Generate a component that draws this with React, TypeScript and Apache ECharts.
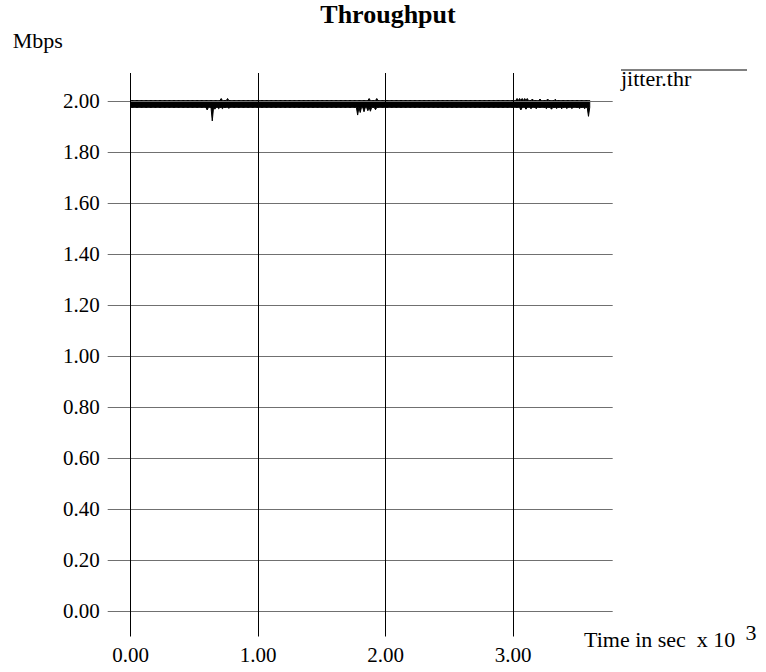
import React, { useEffect, useRef } from "react";
import * as echarts from "echarts";

// width of each sampling bin of the throughput trace (seconds)
const timeStepSec = 10;

// upper edge of the trace in each 10 s bin (Mbps), starting at t = 0
const throughputMaxMbps = [
  2.002,
  // 10-100
  2.002, 2.002, 2.002, 2.002, 2.002, 2.002, 2.002, 2.002, 2.002, 2.002,
  // 110-200
  2.002, 2.002, 2.002, 2.002, 2.002, 2.002, 2.002, 2.002, 2.002, 2.002,
  // 210-300
  2.002, 2.002, 2.002, 2.002, 2.002, 2.002, 2.002, 2.002, 2.002, 2.002,
  // 310-400
  2.002, 2.002, 2.002, 2.002, 2.002, 2.002, 2.002, 2.002, 2.002, 2.002,
  // 410-500
  2.002, 2.002, 2.002, 2.002, 2.002, 2.002, 2.002, 2.002, 2.002, 2.002,
  // 510-600
  2.002, 2.002, 2.002, 2.002, 2.002, 2.002, 2.002, 2.002, 2.002, 2.002,
  // 610-700
  2.002, 2.002, 2.002, 2.002, 2.002, 2.002, 2.002, 2.002, 2.002, 2.002,
  // 710-800
  2.010, 2.002, 2.002, 2.002, 2.002, 2.010, 2.002, 2.002, 2.002, 2.002,
  // 810-900
  2.002, 2.002, 2.002, 2.002, 2.002, 2.002, 2.002, 2.002, 2.002, 2.002,
  // 910-1000
  2.002, 2.002, 2.002, 2.002, 2.002, 2.002, 2.002, 2.002, 2.002, 2.002,
  // 1010-1100
  2.002, 2.002, 2.002, 2.002, 2.002, 2.002, 2.002, 2.002, 2.002, 2.002,
  // 1110-1200
  2.002, 2.002, 2.002, 2.002, 2.002, 2.002, 2.002, 2.002, 2.002, 2.002,
  // 1210-1300
  2.002, 2.002, 2.002, 2.002, 2.002, 2.002, 2.002, 2.002, 2.002, 2.002,
  // 1310-1400
  2.002, 2.002, 2.002, 2.002, 2.002, 2.002, 2.002, 2.002, 2.002, 2.002,
  // 1410-1500
  2.002, 2.002, 2.002, 2.002, 2.002, 2.002, 2.002, 2.002, 2.002, 2.002,
  // 1510-1600
  2.002, 2.002, 2.002, 2.002, 2.002, 2.002, 2.002, 2.002, 2.002, 2.002,
  // 1610-1700
  2.002, 2.002, 2.002, 2.002, 2.002, 2.002, 2.002, 2.002, 2.002, 2.002,
  // 1710-1800
  2.002, 2.002, 2.002, 2.002, 2.002, 2.002, 2.002, 2.002, 2.002, 2.002,
  // 1810-1900
  2.002, 2.002, 2.002, 2.002, 2.002, 2.002, 2.010, 2.002, 2.002, 2.002,
  // 1910-2000
  2.002, 2.002, 2.010, 2.002, 2.002, 2.002, 2.002, 2.002, 2.002, 2.002,
  // 2010-2100
  2.002, 2.002, 2.002, 2.002, 2.002, 2.002, 2.002, 2.002, 2.002, 2.002,
  // 2110-2200
  2.002, 2.002, 2.002, 2.002, 2.002, 2.002, 2.002, 2.002, 2.002, 2.002,
  // 2210-2300
  2.002, 2.002, 2.002, 2.002, 2.002, 2.002, 2.002, 2.002, 2.002, 2.002,
  // 2310-2400
  2.002, 2.002, 2.002, 2.002, 2.002, 2.002, 2.002, 2.002, 2.002, 2.002,
  // 2410-2500
  2.002, 2.002, 2.002, 2.002, 2.002, 2.002, 2.002, 2.002, 2.002, 2.002,
  // 2510-2600
  2.002, 2.002, 2.002, 2.002, 2.002, 2.002, 2.002, 2.002, 2.002, 2.002,
  // 2610-2700
  2.002, 2.002, 2.002, 2.002, 2.002, 2.002, 2.002, 2.002, 2.002, 2.002,
  // 2710-2800
  2.002, 2.002, 2.002, 2.002, 2.002, 2.002, 2.002, 2.002, 2.002, 2.002,
  // 2810-2900
  2.002, 2.002, 2.002, 2.002, 2.002, 2.002, 2.002, 2.002, 2.002, 2.002,
  // 2910-3000
  2.002, 2.002, 2.002, 2.002, 2.002, 2.002, 2.002, 2.002, 2.002, 2.002,
  // 3010-3100
  2.002, 2.002, 2.010, 2.002, 2.010, 2.002, 2.010, 2.002, 2.010, 2.002,
  // 3110-3200
  2.010, 2.002, 2.002, 2.002, 2.008, 2.002, 2.002, 2.002, 2.002, 2.002,
  // 3210-3300
  2.008, 2.002, 2.002, 2.002, 2.002, 2.002, 2.008, 2.002, 2.002, 2.002,
  // 3310-3400
  2.002, 2.002, 2.007, 2.002, 2.002, 2.002, 2.002, 2.002, 2.002, 2.002,
  // 3410-3500
  2.002, 2.002, 2.002, 2.002, 2.002, 2.002, 2.002, 2.002, 2.002, 2.002,
  // 3510-3600
  2.002, 2.002, 2.002, 2.002, 2.002, 2.002, 2.002, 2.002, 2.002, 2.002,
];

// lower edge of the trace in each 10 s bin (Mbps), starting at t = 0
const throughputMinMbps = [
  1.975,
  // 10-100
  1.975, 1.975, 1.975, 1.975, 1.975, 1.975, 1.975, 1.975, 1.975, 1.975,
  // 110-200
  1.975, 1.975, 1.975, 1.975, 1.975, 1.975, 1.975, 1.975, 1.975, 1.975,
  // 210-300
  1.975, 1.975, 1.975, 1.975, 1.975, 1.975, 1.975, 1.975, 1.975, 1.975,
  // 310-400
  1.975, 1.975, 1.975, 1.975, 1.975, 1.975, 1.975, 1.975, 1.975, 1.975,
  // 410-500
  1.975, 1.975, 1.975, 1.975, 1.975, 1.975, 1.975, 1.975, 1.975, 1.975,
  // 510-600
  1.975, 1.975, 1.975, 1.975, 1.975, 1.975, 1.975, 1.975, 1.975, 1.965,
  // 610-700
  1.975, 1.975, 1.975, 1.922, 1.975, 1.968, 1.975, 1.975, 1.970, 1.975,
  // 710-800
  1.975, 1.970, 1.975, 1.975, 1.975, 1.975, 1.972, 1.975, 1.975, 1.975,
  // 810-900
  1.975, 1.975, 1.975, 1.975, 1.975, 1.975, 1.975, 1.975, 1.975, 1.975,
  // 910-1000
  1.975, 1.975, 1.975, 1.975, 1.975, 1.975, 1.975, 1.975, 1.975, 1.975,
  // 1010-1100
  1.975, 1.975, 1.975, 1.975, 1.975, 1.975, 1.975, 1.975, 1.975, 1.975,
  // 1110-1200
  1.975, 1.975, 1.975, 1.975, 1.975, 1.975, 1.975, 1.975, 1.975, 1.975,
  // 1210-1300
  1.975, 1.975, 1.975, 1.975, 1.975, 1.975, 1.975, 1.975, 1.975, 1.975,
  // 1310-1400
  1.975, 1.975, 1.975, 1.975, 1.975, 1.975, 1.975, 1.975, 1.975, 1.975,
  // 1410-1500
  1.975, 1.975, 1.975, 1.975, 1.975, 1.975, 1.975, 1.975, 1.975, 1.975,
  // 1510-1600
  1.975, 1.975, 1.975, 1.975, 1.975, 1.975, 1.975, 1.975, 1.975, 1.975,
  // 1610-1700
  1.975, 1.975, 1.975, 1.975, 1.975, 1.975, 1.975, 1.975, 1.975, 1.975,
  // 1710-1800
  1.975, 1.975, 1.975, 1.975, 1.975, 1.975, 1.975, 1.945, 1.975, 1.955,
  // 1810-1900
  1.975, 1.975, 1.958, 1.975, 1.975, 1.962, 1.975, 1.960, 1.975, 1.975,
  // 1910-2000
  1.975, 1.966, 1.975, 1.975, 1.975, 1.975, 1.975, 1.975, 1.975, 1.975,
  // 2010-2100
  1.975, 1.975, 1.975, 1.975, 1.975, 1.975, 1.975, 1.975, 1.975, 1.975,
  // 2110-2200
  1.975, 1.975, 1.975, 1.975, 1.975, 1.975, 1.975, 1.975, 1.975, 1.975,
  // 2210-2300
  1.975, 1.975, 1.975, 1.975, 1.975, 1.975, 1.975, 1.975, 1.975, 1.975,
  // 2310-2400
  1.975, 1.975, 1.975, 1.975, 1.975, 1.975, 1.975, 1.975, 1.975, 1.975,
  // 2410-2500
  1.975, 1.975, 1.975, 1.975, 1.975, 1.975, 1.975, 1.975, 1.975, 1.975,
  // 2510-2600
  1.975, 1.975, 1.975, 1.975, 1.975, 1.975, 1.975, 1.975, 1.975, 1.975,
  // 2610-2700
  1.975, 1.975, 1.975, 1.975, 1.975, 1.975, 1.975, 1.975, 1.975, 1.975,
  // 2710-2800
  1.975, 1.975, 1.975, 1.975, 1.975, 1.975, 1.975, 1.975, 1.975, 1.975,
  // 2810-2900
  1.975, 1.975, 1.975, 1.975, 1.975, 1.975, 1.975, 1.975, 1.975, 1.975,
  // 2910-3000
  1.975, 1.975, 1.975, 1.975, 1.975, 1.975, 1.975, 1.975, 1.975, 1.975,
  // 3010-3100
  1.975, 1.975, 1.975, 1.975, 1.975, 1.965, 1.975, 1.975, 1.975, 1.968,
  // 3110-3200
  1.975, 1.975, 1.975, 1.970, 1.975, 1.975, 1.975, 1.970, 1.975, 1.975,
  // 3210-3300
  1.975, 1.975, 1.975, 1.975, 1.975, 1.970, 1.975, 1.975, 1.975, 1.968,
  // 3310-3400
  1.975, 1.975, 1.975, 1.971, 1.975, 1.975, 1.975, 1.970, 1.975, 1.975,
  // 3410-3500
  1.975, 1.971, 1.975, 1.975, 1.975, 1.971, 1.975, 1.975, 1.975, 1.975,
  // 3510-3600
  1.975, 1.971, 1.975, 1.975, 1.975, 1.970, 1.975, 1.975, 1.940, 1.975,
];

// tick positions (x in seconds, labelled in thousands; y in Mbps)
const xTickValues = [0, 1000, 2000, 3000];
const yTickValues = [0, 0.2, 0.4, 0.6, 0.8, 1.0, 1.2, 1.4, 1.6, 1.8, 2.0];

const titleText = "Throughput";
const yAxisTitle = "Mbps";
const xAxisTitle = "Time in sec  x 10";
const xAxisExponent = "3";
const seriesName = "jitter.thr";

const FONT = "Liberation Serif";

export default function App() {
  const ref = useRef<HTMLDivElement>(null);

  useEffect(() => {
    document.body.style.margin = "0";
    if (!ref.current) return;
    const chart = echarts.init(ref.current, undefined, { renderer: "svg" });

    // one record per bin: [time, min, max]
    const bandData = throughputMaxMbps.map((v, i) => [
      i * timeStepSec,
      throughputMinMbps[i],
      v,
    ]);

    const txt = (
      text: string,
      x: number,
      y: number,
      size: number,
      align = "left",
      weight = "normal"
    ) => ({
      type: "text",
      x,
      y,
      style: {
        text,
        fontFamily: FONT,
        fontSize: size,
        fontWeight: weight,
        fill: "#000",
        align,
        verticalAlign: "middle",
      },
    });

    const option: any = {
      animation: false,
      backgroundColor: "#ffffff",
      textStyle: { fontFamily: FONT, color: "#000" },
      grid: { left: 107.7, top: 73, width: 505, height: 563.5, containLabel: false },
      xAxis: {
        type: "value",
        min: -180,
        max: 3780,
        axisLine: { show: false },
        axisTick: { show: false },
        splitLine: { show: false },
        axisLabel: {
          customValues: xTickValues,
          formatter: (v: number) => (v / 1000).toFixed(2),
          fontFamily: FONT,
          fontSize: 21,
          color: "#000",
          margin: 8,
        },
      },
      yAxis: {
        type: "value",
        min: -0.1,
        max: 2.11,
        axisLine: { show: false },
        axisTick: { show: false },
        splitLine: { show: false },
        axisLabel: {
          customValues: yTickValues,
          formatter: (v: number) => v.toFixed(2),
          fontFamily: FONT,
          fontSize: 21,
          color: "#000",
          margin: 8,
        },
      },
      series: [
        {
          type: "line",
          name: "hgrid",
          data: [],
          silent: true,
          z: 1,
          markLine: {
            silent: true,
            symbol: ["none", "none"],
            label: { show: false },
            emphasis: { disabled: true },
            lineStyle: { color: "#707070", width: 1, type: "solid" },
            data: yTickValues.map((v) => ({ yAxis: v })),
          },
        },
        {
          type: "line",
          name: "vgrid",
          data: [],
          silent: true,
          z: 1,
          markLine: {
            silent: true,
            symbol: ["none", "none"],
            label: { show: false },
            emphasis: { disabled: true },
            lineStyle: { color: "#000000", width: 1, type: "solid" },
            data: xTickValues.map((v) => ({ xAxis: v })),
          },
        },
        {
          type: "custom",
          name: seriesName,
          z: 3,
          silent: true,
          data: [bandData[0]],
          renderItem: (params: any, api: any) => {
            if (params.dataIndex !== 0) return null;
            const upper = bandData.map((d) => api.coord([d[0], d[2]]));
            const lower = bandData.map((d) => api.coord([d[0], d[1]])).reverse();
            return {
              type: "polygon",
              shape: { points: upper.concat(lower) },
              style: {
                fill: "#000",
                stroke: "#000",
                lineWidth: 1,
                lineJoin: "bevel",
              },
            };
          },
        },
      ],
      graphic: [
        txt(titleText, 388, 14.5, 26, "center", "bold"),
        txt(yAxisTitle, 12.7, 40.8, 22),
        {
          type: "line",
          shape: { x1: 621, y1: 70, x2: 747, y2: 70 },
          style: { stroke: "#000", lineWidth: 1 },
        },
        txt(seriesName, 621, 78.5, 22),
        txt(xAxisTitle, 584, 639.8, 22),
        txt(xAxisExponent, 745.5, 632.5, 22),
      ],
    };

    chart.setOption(option);
    return () => chart.dispose();
  }, []);

  return <div ref={ref} style={{ width: 766, height: 672 }} />;
}
